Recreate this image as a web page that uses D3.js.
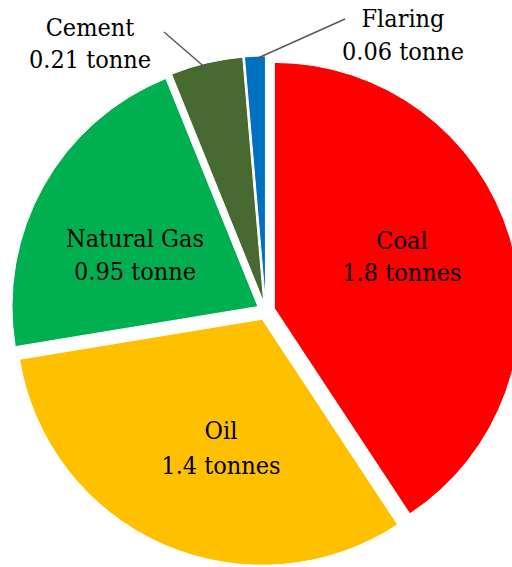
<!DOCTYPE html>
<html>
<head>
<meta charset="utf-8">
<script src="https://cdn.jsdelivr.net/npm/d3@7"></script>
<style>
  html, body { margin: 0; padding: 0; background: #fff; }
  svg { display: block; }
</style>
</head>
<body>
<svg id="chart" width="512" height="567"></svg>
<script>
// CO2 emitted per person, by source (tonnes)
const categories = ["Coal", "Oil", "Natural Gas", "Cement", "Flaring"];
const values = [1.8, 1.4, 0.95, 0.21, 0.06];
const colors = ["#FF0000", "#FFC000", "#00B050", "#486A30", "#0070C0"];

// Label anchors (first-line baseline centre) and leader lines for small slices
const labelAnchors = {
  "Coal": [402, 249],
  "Oil": [221, 439],
  "Natural Gas": [135, 247],
  "Cement": [90, 36],
  "Flaring": [403, 27]
};
const lineGap = { "Coal": 32, "Oil": 35, "Natural Gas": 33, "Cement": 32, "Flaring": 33 };
const leaders = {
  "Cement": [[164, 32], [208, 70]],
  "Flaring": [[345, 19], [258, 58]]
};

const unitText = v => v + (v >= 1 ? " tonnes" : " tonne");
const FONT = "'DejaVu Serif Condensed', 'DejaVu Serif', serif";

const svg = d3.select("#chart");
const cx = 265.8, cy = 311, radius = 246, explode = 9;

const data = categories.map((c, i) => ({ name: c, value: values[i], color: colors[i] }));

const pie = d3.pie().sort(null).value(d => d.value).startAngle(0).endAngle(2 * Math.PI);
const arc = d3.arc().innerRadius(0).outerRadius(radius);
const arcs = pie(data);

const g = svg.append("g").attr("transform", `translate(${cx},${cy})`);

g.selectAll("path.slice")
  .data(arcs)
  .join("path")
  .attr("class", "slice")
  .attr("d", arc)
  .attr("fill", d => d.data.color)
  .attr("stroke", "#fff")
  .attr("stroke-width", 1)
  .attr("transform", d => {
    const mid = (d.startAngle + d.endAngle) / 2;
    return `translate(${explode * Math.sin(mid)},${-explode * Math.cos(mid)})`;
  });

// Leader lines
Object.entries(leaders).forEach(([name, pts]) => {
  svg.append("line")
    .attr("x1", pts[0][0]).attr("y1", pts[0][1])
    .attr("x2", pts[1][0]).attr("y2", pts[1][1])
    .attr("stroke", "#595959")
    .attr("stroke-width", 1.5);
});

// Labels
const labels = svg.selectAll("text.lbl")
  .data(data)
  .join("text")
  .attr("class", "lbl")
  .style("font-family", FONT)
  .style("font-stretch", "condensed")
  .style("font-size", "25px")
  .attr("fill", "#000")
  .attr("text-anchor", "middle")
  .attr("x", d => labelAnchors[d.name][0])
  .attr("y", d => labelAnchors[d.name][1]);

labels.append("tspan")
  .attr("x", d => labelAnchors[d.name][0])
  .text(d => d.name);
labels.append("tspan")
  .attr("x", d => labelAnchors[d.name][0])
  .attr("dy", d => lineGap[d.name])
  .text(d => unitText(d.value));
</script>
</body>
</html>
